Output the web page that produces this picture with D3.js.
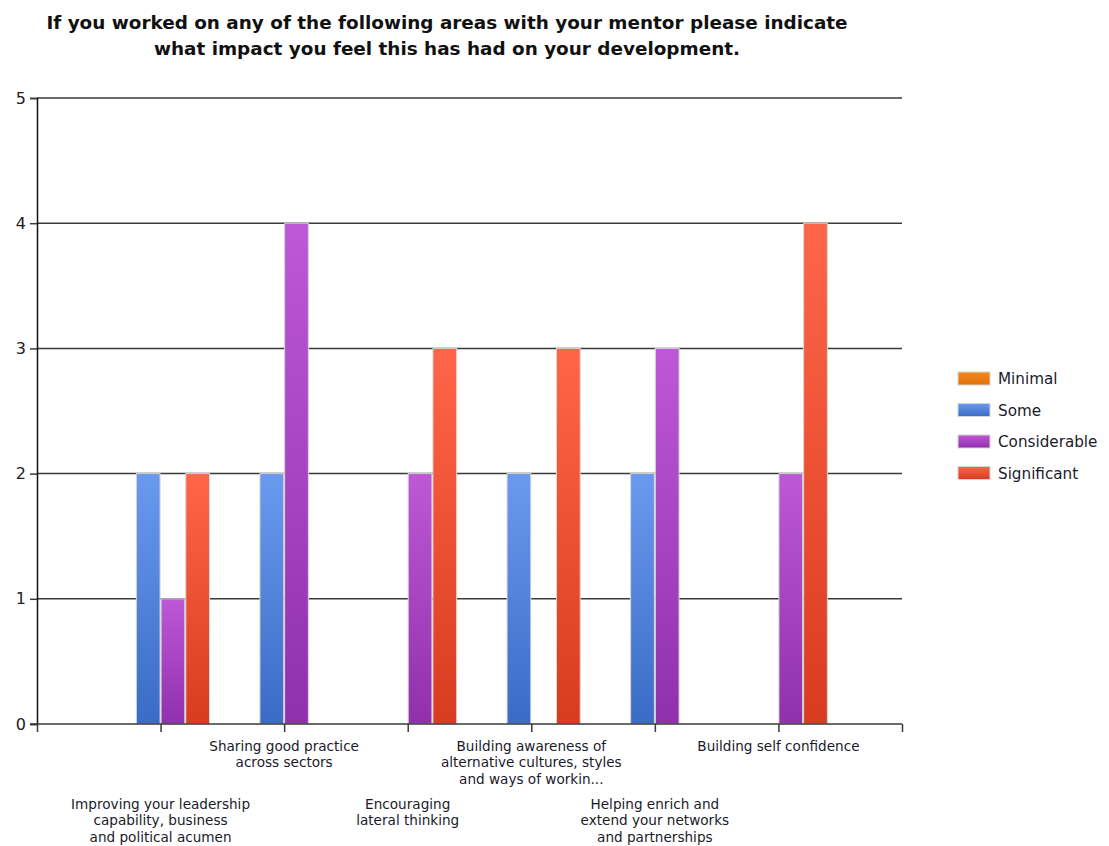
<!DOCTYPE html>
<html>
<head>
<meta charset="utf-8">
<script src="https://cdn.jsdelivr.net/npm/d3@7"></script>
<style>
  html, body { margin: 0; padding: 0; background: #fff; }
  svg { display: block; }
</style>
</head>
<body>
<svg id="chart" width="1109" height="846"></svg>
<script>
// Survey responses: number of mentees reporting each level of impact per area
const categories = [
  ["Improving your leadership", "capability, business", "and political acumen"],
  ["Sharing good practice", "across sectors"],
  ["Encouraging", "lateral thinking"],
  ["Building awareness of", "alternative cultures, styles", "and ways of workin..."],
  ["Helping enrich and", "extend your networks", "and partnerships"],
  ["Building self confidence"]
];
const seriesNames = ["Minimal", "Some", "Considerable", "Significant"];
const minimal      = [0, 0, 0, 0, 0, 0];
const some         = [2, 2, 0, 2, 2, 0];
const considerable = [1, 4, 2, 0, 3, 2];
const significant  = [2, 0, 3, 3, 0, 4];
const yTicks = [0, 1, 2, 3, 4, 5];
const titleLines = [
  "If you worked on any of the following areas with your mentor please indicate",
  "what impact you feel this has had on your development."
];

const seriesValues = [minimal, some, considerable, significant];
// top / bottom colours of each series' vertical gradient
const seriesColors = [
  ["#f28a1e", "#e0700a"],
  ["#6a9aee", "#3a6bc6"],
  ["#bd58d6", "#9030ad"],
  ["#ff6548", "#d83c20"]
];

const svg = d3.select("#chart");
const plotLeft = 37, plotRight = 902, plotTop = 98, plotBottom = 724;

const x = d3.scaleLinear().domain([0, categories.length + 1]).range([plotLeft, plotRight]);
const y = d3.scaleLinear().domain([0, 5]).range([plotBottom, plotTop]);
const bandW = x(1) - x(0);
const barW = bandW * 0.8 / seriesNames.length;

// gradients
const defs = svg.append("defs");
seriesColors.forEach((c, i) => {
  const g = defs.append("linearGradient")
    .attr("id", "grad" + i).attr("x1", 0).attr("y1", 0).attr("x2", 0).attr("y2", 1);
  g.append("stop").attr("offset", "0%").attr("stop-color", c[0]);
  g.append("stop").attr("offset", "100%").attr("stop-color", c[1]);
});

// title
svg.append("g").selectAll("text").data(titleLines).join("text")
  .attr("x", 447).attr("y", (d, i) => 29 + i * 26)
  .attr("text-anchor", "middle")
  .attr("font-family", "'DejaVu Sans', Verdana, sans-serif")
  .attr("font-weight", "bold")
  .attr("font-size", 18.4)
  .attr("fill", "#111")
  .text(d => d);

// horizontal grid lines
svg.append("g").selectAll("line").data(yTicks.filter(d => d > 0)).join("line")
  .attr("x1", plotLeft).attr("x2", plotRight)
  .attr("y1", d => y(d)).attr("y2", d => y(d))
  .attr("stroke", "#3a3a3a").attr("stroke-width", 1.5);

// bars
const barData = [];
seriesValues.forEach((vals, s) => {
  vals.forEach((v, c) => {
    if (v > 0) barData.push({ s, c, v });
  });
});
svg.append("g").selectAll("rect").data(barData).join("rect")
  .attr("x", d => x(d.c + 1) + (d.s - 2) * barW + 0.5)
  .attr("width", barW - 1)
  .attr("y", d => y(d.v))
  .attr("height", d => y(0) - y(d.v))
  .attr("fill", d => "url(#grad" + d.s + ")")
  .attr("stroke", "#d6d6d6").attr("stroke-width", 1);

// y axis
const yAxis = d3.axisLeft(y).tickValues(yTicks).tickSize(7).tickPadding(4).tickFormat(d3.format("d"));
const gy = svg.append("g").attr("transform", `translate(${plotLeft},0)`).call(yAxis);
gy.select(".domain").attr("stroke", "#111").attr("stroke-width", 1.5);
gy.selectAll(".tick line").attr("stroke", "#3a3a3a").attr("stroke-width", 1.5);
gy.selectAll(".tick text")
  .attr("font-family", "'DejaVu Sans', Verdana, sans-serif")
  .attr("font-size", 16).attr("fill", "#222");

// x axis with ticks at every unit
const xAxis = d3.axisBottom(x).tickValues(d3.range(0, categories.length + 2)).tickSize(8).tickFormat("");
const gx = svg.append("g").attr("transform", `translate(0,${plotBottom})`).call(xAxis);
gx.select(".domain").attr("stroke", "#3a3a3a").attr("stroke-width", 1.5).attr("d", `M${plotLeft - 7},0H${plotRight}`);
gx.selectAll(".tick line").attr("stroke", "#3a3a3a").attr("stroke-width", 1.5);

// category labels, alternating in two rows
const labels = svg.append("g")
  .attr("font-family", "'DejaVu Sans', Verdana, sans-serif")
  .attr("font-size", 13.6)
  .attr("fill", "#1a1a2a")
  .attr("text-anchor", "middle");
categories.forEach((lines, i) => {
  const baseY = (i % 2 === 1) ? 751 : 809;
  const t = labels.append("text").attr("x", x(i + 1)).attr("y", baseY);
  lines.forEach((ln, j) => {
    t.append("tspan").attr("x", x(i + 1)).attr("y", baseY + j * 16.4).text(ln);
  });
});

// legend
const legend = svg.append("g").attr("transform", "translate(958,372)");
const li = legend.selectAll("g").data(seriesNames).join("g")
  .attr("transform", (d, i) => `translate(0,${i * 31.5})`);
li.append("rect")
  .attr("width", 32).attr("height", 13)
  .attr("fill", (d, i) => "url(#grad" + i + ")")
  .attr("stroke", "#d6d6d6").attr("stroke-width", 1);
li.append("text")
  .attr("x", 40).attr("y", 12)
  .attr("font-family", "'DejaVu Sans', Verdana, sans-serif")
  .attr("font-size", 15.2)
  .attr("fill", "#1a1a2a")
  .text(d => d);
</script>
</body>
</html>
